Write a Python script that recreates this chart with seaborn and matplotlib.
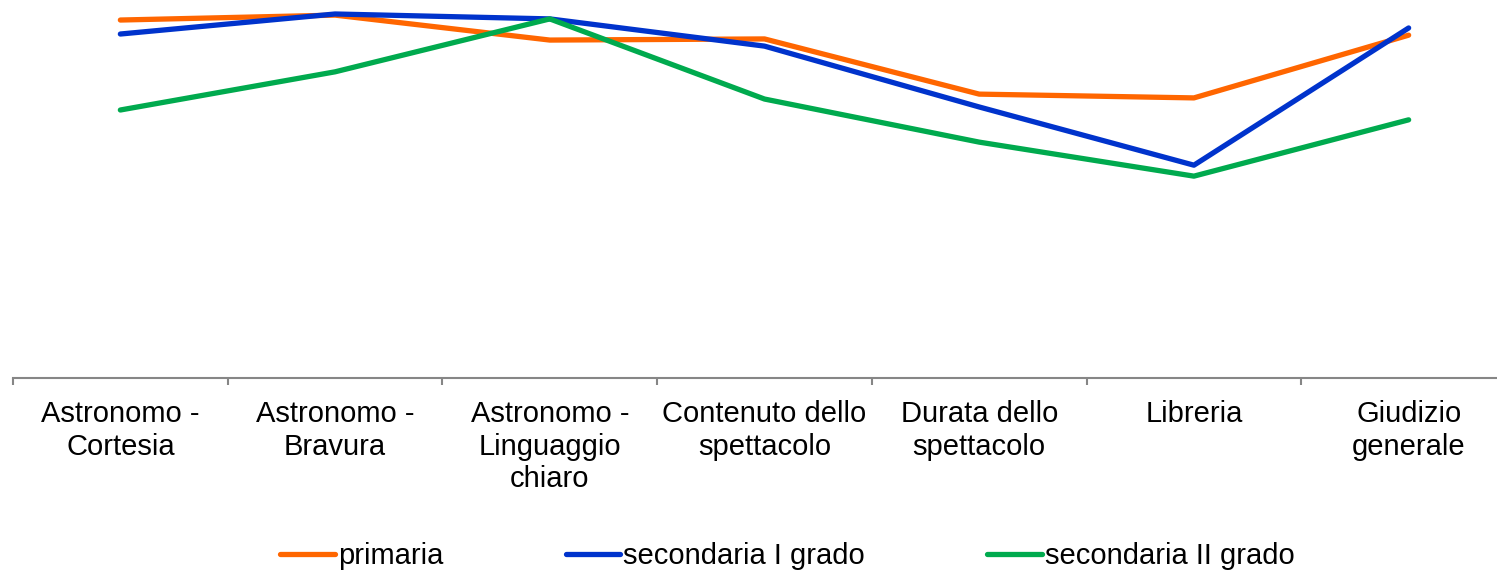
import numpy as np
import pandas as pd
import matplotlib
matplotlib.use("Agg")
import matplotlib.pyplot as plt
import seaborn as sns

categories = ["Astronomo -\nCortesia", "Astronomo -\nBravura", "Astronomo -\nLinguaggio\nchiaro",
              "Contenuto dello\nspettacolo", "Durata dello\nspettacolo", "Libreria", "Giudizio\ngenerale"]
primaria = [94.7, 96.0, 89.4, 89.7, 75.1, 74.1, 90.7]
secondaria_1 = [91.0, 96.3, 95.0, 87.8, 71.7, 56.3, 92.6]
secondaria_2 = [70.9, 81.0, 95.0, 73.8, 62.4, 53.4, 68.3]
series_names = ["primaria", "secondaria I grado", "secondaria II grado"]
colors = ["#FF6600", "#0033CC", "#00AA4E"]

pos = np.arange(len(categories))
df = pd.concat([
    pd.DataFrame({"pos": pos, "valore": vals, "serie": name})
    for name, vals in zip(series_names, [primaria, secondaria_1, secondaria_2])
])

sns.set_style("white")
plt.rcParams["font.family"] = ["Liberation Sans", "DejaVu Sans"]
plt.rcParams["text.color"] = "black"
plt.rcParams["xtick.color"] = "black"

fig = plt.figure(figsize=(14.97, 5.71), dpi=100)
ax = fig.add_axes([13 / 1497, 193 / 571, 1503 / 1497, 378 / 571])

sns.lineplot(data=df, x="pos", y="valore", hue="serie", palette=colors,
             linewidth=3.8, ax=ax, legend=True)

ax.set_xlim(-0.5, len(categories) - 0.5)
ax.set_ylim(0, 100)
for s in ["top", "right", "left"]:
    ax.spines[s].set_visible(False)
ax.spines["bottom"].set_color("#868686")
ax.spines["bottom"].set_linewidth(1.5)
ax.set_yticks([])
ax.set_xlabel("")
ax.set_ylabel("")

ax.set_xticks(np.arange(-0.5, len(categories), 1.0))
ax.set_xticklabels([])
ax.tick_params(axis="x", which="major", direction="out", length=5, width=1.5,
               color="#868686", bottom=True)
ax.set_xticks(pos, minor=True)
ax.set_xticklabels(categories, minor=True, fontsize=21, linespacing=1.2, color="black")
ax.tick_params(axis="x", which="minor", length=0, pad=16)

handles, labels = ax.get_legend_handles_labels()
ax.legend_.remove()
leg = fig.legend(handles, labels, loc="center", bbox_to_anchor=(787.5 / 1497, 15 / 571),
                 ncol=3, frameon=False, fontsize=21, handlelength=1.87, handletextpad=0.1,
                 columnspacing=4.2, borderaxespad=0)
for t in leg.get_texts():
    t.set_color("black")

fig.savefig("out.png", dpi=100)
